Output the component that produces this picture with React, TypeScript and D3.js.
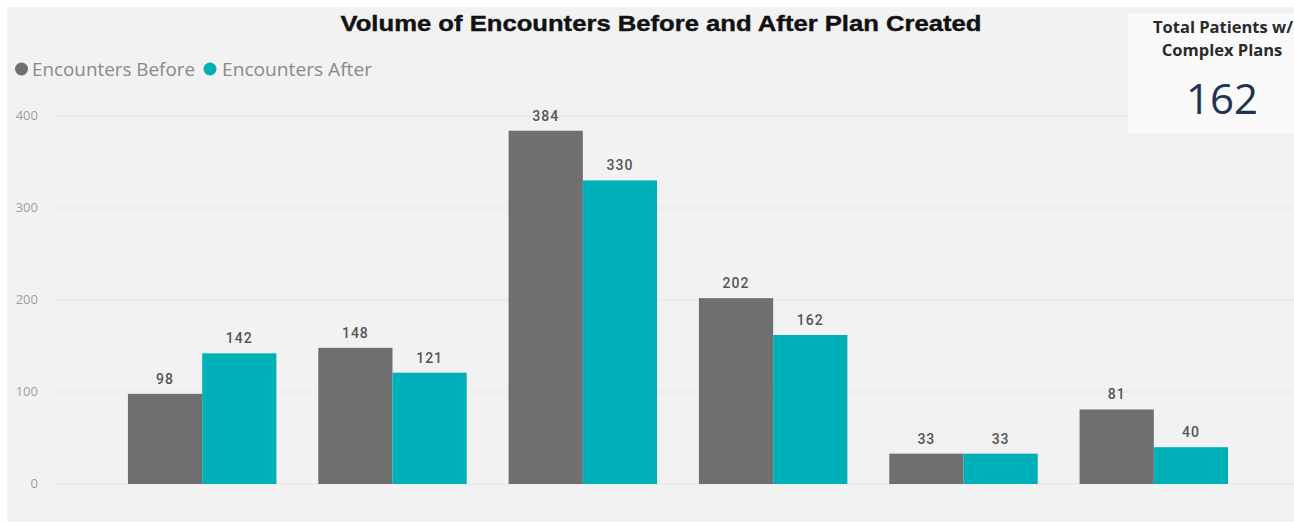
import React from "react";
import * as d3 from "d3";

const categories = ["A", "B", "C", "D", "E", "F"];
const seriesNames = ["Encounters Before", "Encounters After"];
const before = [98, 148, 384, 202, 33, 81];
const after = [142, 121, 330, 162, 33, 40];
const yTicks = [0, 100, 200, 300, 400];
const title = "Volume of Encounters Before and After Plan Created";
const cardTitle = ["Total Patients w/", "Complex Plans"];
const cardValue = "162";

const W = 1294;
const H = 524;
const colors = ["#6e6f6e", "#00b0b9"];

export default function App() {
  const x = d3.scaleBand<string>().domain(categories).range([107, 1249]).paddingInner(0.22).paddingOuter(0.11);
  const x1 = d3.scaleBand<string>().domain(seriesNames).range([0, x.bandwidth()]);
  const y = d3.scaleLinear().domain([0, 400]).range([484, 116]);
  const series = [before, after];

  return (
    <svg width={W} height={H} style={{ position: "absolute", left: 0, top: 0 }}>
      <rect x={0} y={0} width={W} height={H} fill="#ffffff" />
      <rect x={7} y={7} width={W - 7} height={H - 9} fill="#f2f2f2" />
      {/* title */}
      <text x={661} y={31} textAnchor="middle" fontFamily="Liberation Sans, Arial, sans-serif" fontWeight="bold" fontSize={22} fill="#111" stroke="#111" strokeWidth={0.4} textLength={641} lengthAdjust="spacingAndGlyphs">
        {title}
      </text>
      {/* legend */}
      <g fontFamily="'Open Sans', 'Noto Sans', sans-serif" fontSize={19} fill="#8a8a8a">
        <circle cx={21.5} cy={69} r={6.5} fill={colors[0]} />
        <text x={32} y={76} textLength={163} lengthAdjust="spacingAndGlyphs">{seriesNames[0]}</text>
        <circle cx={210} cy={69} r={6.5} fill={colors[1]} />
        <text x={222} y={76} textLength={150} lengthAdjust="spacingAndGlyphs">{seriesNames[1]}</text>
      </g>
      {/* grid + y ticks */}
      {yTicks.map((t) => (
        <g key={t}>
          <line x1={52} x2={W} y1={y(t)} y2={y(t)} stroke="#e6e6e6" strokeWidth={1} />
          <text x={38} y={y(t) + 4} textAnchor="end" fontFamily="'Open Sans', 'Noto Sans', sans-serif" fontSize={13} fill="#a0a0a0">
            {t}
          </text>
        </g>
      ))}
      {/* bars */}
      {categories.map((c, i) => (
        <g key={c} transform={`translate(${x(c)},0)`}>
          {series.map((s, j) => {
            const bx = x1(seriesNames[j])!;
            return (
              <g key={j}>
                <rect x={bx} y={y(s[i])} width={x1.bandwidth()} height={y(0) - y(s[i])} fill={colors[j]} />
                <text x={bx + x1.bandwidth() / 2} y={y(s[i]) - 10} textAnchor="middle" fontFamily="Roboto, sans-serif" fontWeight={500} fontSize={14} letterSpacing={1} fill="#555">
                  {s[i]}
                </text>
              </g>
            );
          })}
        </g>
      ))}
      {/* card */}
      <rect x={1128} y={13} width={W - 1128} height={120} fill="#fafafa" />
      <g fontFamily="'Open Sans', 'Noto Sans', sans-serif" textAnchor="middle">
        <text x={1223} y={33} fontSize={16.5} fontWeight="bold" fill="#2a2a2a">{cardTitle[0]}</text>
        <text x={1222} y={56} fontSize={16.5} fontWeight="bold" fill="#2a2a2a">{cardTitle[1]}</text>
        <text x={1222} y={114} fontSize={42} fill="#1d3552">{cardValue}</text>
      </g>
    </svg>
  );
}
